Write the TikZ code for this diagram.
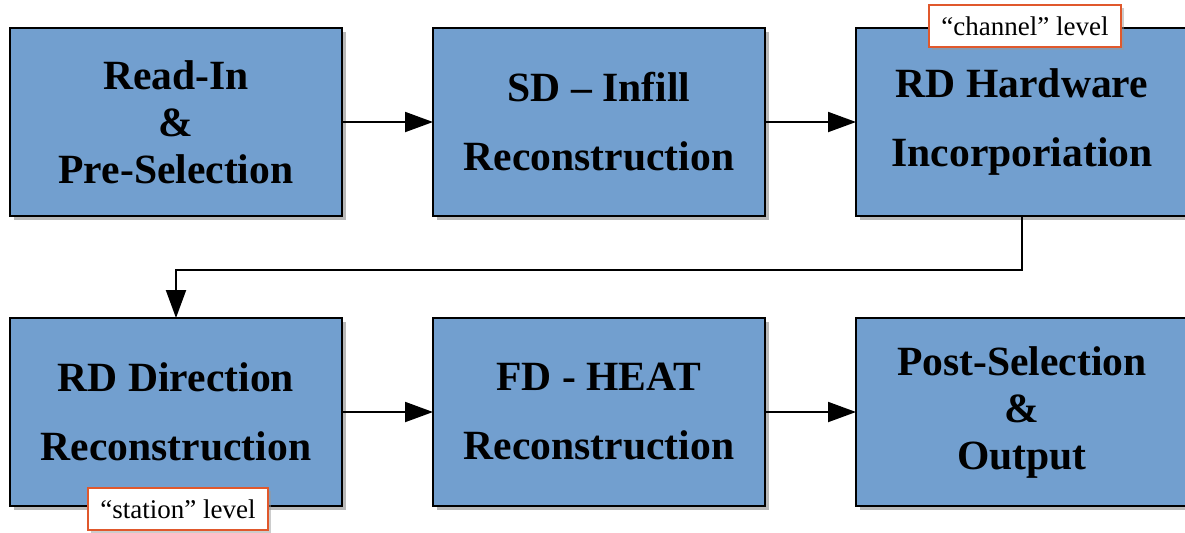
\documentclass[tikz,border=0pt]{standalone}
\usepackage{fontspec}
\setmainfont{Liberation Serif}
\usetikzlibrary{arrows.meta,positioning,shadows}
\definecolor{boxblue}{HTML}{729FCF}
\definecolor{tagred}{HTML}{E0582C}

\begin{document}
\begin{tikzpicture}[>={Triangle[length=14pt,width=10pt]},node distance=45.5pt,
 stage/.style={draw=black,line width=1.2pt,fill=boxblue,minimum width=166pt,
  minimum height=94pt,inner sep=0pt,outer sep=0pt,align=center,
  font=\fontsize{20.8}{23.5}\selectfont\bfseries,
  drop shadow={shadow xshift=2.2pt,shadow yshift=-2.2pt,fill=black!55}},
 tag/.style={draw=tagred,line width=1pt,fill=white,minimum height=21pt,
  inner xsep=6pt,font=\fontsize{13.5}{15}\selectfont,
  drop shadow={shadow xshift=1.5pt,shadow yshift=-1.5pt,fill=black!40}},
 flow/.style={->,line width=1pt}]
\useasboundingbox (0,0) rectangle (592.5pt,-266pt);
\node[stage] (readin) at (88pt,-61pt) {Read-In\\\&\\Pre-Selection};
\node[stage,right=of readin] (sdinfill) {SD -- Infill\\[11pt]Reconstruction};
\node[stage,right=of sdinfill] (rdhw) {RD Hardware\\[11pt]Incorporiation};
\node[stage,below=51pt of readin] (rddir) {RD Direction\\[11pt]Reconstruction};
\node[stage,right=of rddir] (fdheat) {FD - HEAT\\[11pt]Reconstruction};
\node[stage,right=of fdheat] (post) {Post-Selection\\\&\\Output};
% level tags
\node[tag] (chtag) at ([xshift=1.5pt,yshift=1pt]rdhw.north) {``channel'' level};
\node[tag] (sttag) at ([xshift=1pt,yshift=-1.5pt]rddir.south) {``station'' level};
% connectors
\draw[flow] (readin) -- (sdinfill);
\draw[flow] (sdinfill) -- (rdhw);
\draw[flow] (rdhw.south) -- ++(0,-27pt) -| (rddir.north);
\draw[flow] (rddir) -- (fdheat);
\draw[flow] (fdheat) -- (post);
\end{tikzpicture}
\end{document}
